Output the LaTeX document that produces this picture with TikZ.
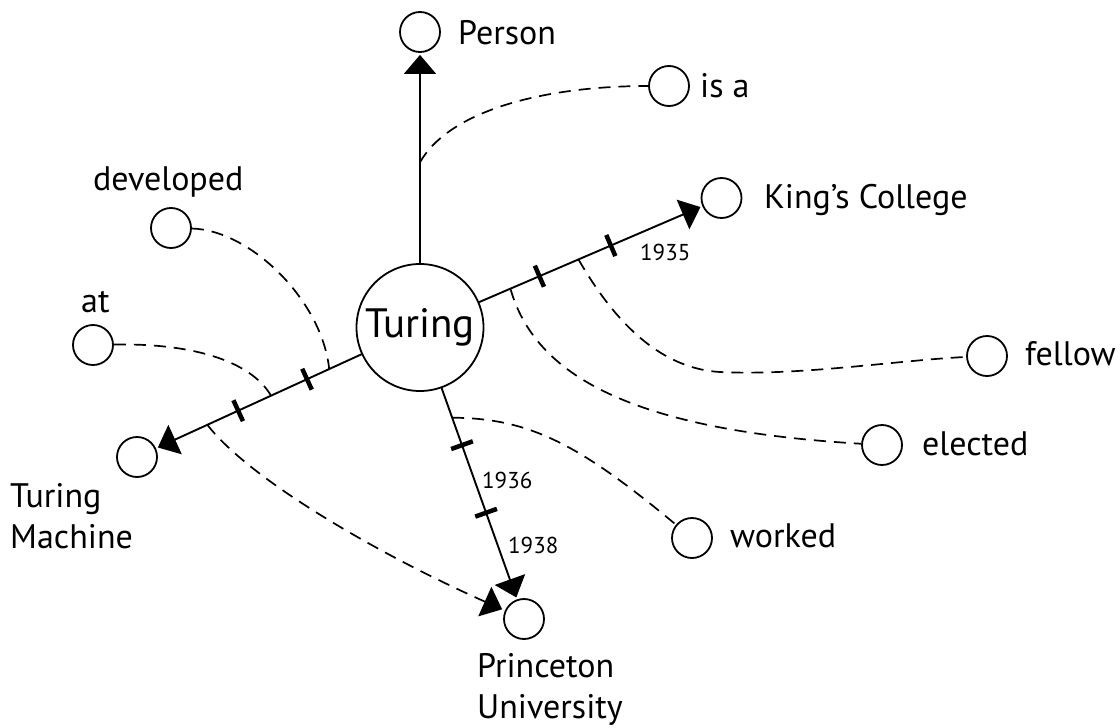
\documentclass[tikz,border=0pt]{standalone}
\usepackage{fontspec}
\setmainfont{PT Sans}
\usetikzlibrary{arrows.meta}
\begin{document}
\begin{tikzpicture}[x=1pt,y=-1pt,
  every node/.style={inner sep=0pt},
  term/.style={circle,draw,line width=1.8pt,minimum size=40pt},
  hub/.style={circle,draw,line width=1.8pt,minimum size=127pt,font=\fontsize{41}{49}\selectfont},
  lbl/.style={anchor=base west,font=\fontsize{34}{40}\selectfont},
  yr/.style={anchor=base west,font=\fontsize{23}{27}\selectfont},
  tip/.style={-{Triangle[width=32pt,length=19pt]}},
  rel/.style={line width=1.9pt,tip,shorten >=2pt},
  hint/.style={line width=1.7pt,dash pattern=on 12pt off 8pt},
  bar/.style={rectangle,fill=black,minimum width=4.5pt,minimum height=23pt,sloped}
]
% canvas
\path[fill=white,use as bounding box] (0,0) rectangle (1120,728);

% concepts
\node[hub]  (tur)     at (420,327.5) {Turing};
\node[term] (person)  at (420,32)  {};
\node[term] (isa)     at (669,86)  {};
\node[term] (dev)     at (171,228) {};
\node[term] (at)      at (93,345)  {};
\node[term] (tm)      at (137,457) {};
\node[term] (kings)   at (721.5,198) {};
\node[term] (fellow)  at (987,356) {};
\node[term] (elected) at (882,445) {};
\node[term] (worked)  at (692,538) {};
\node[term] (prin)    at (524,619) {};

% labels
\node[lbl] (tperson)  at (458,45)  {Person};
\node[lbl] (tisa)     at (700,97)  {is a};
\node[lbl] (tdev)     at (93,190)  {developed};
\node[lbl] (tat)      at (81,312)  {at};
\node[lbl] (ttm1)     at (10,507)  {Turing};
\node[lbl] (ttm2)     at (10,548)  {Machine};
\node[lbl] (tkings)   at (764,208) {King’s College};
\node[lbl] (tfellow)  at (1025,365) {fellow};
\node[lbl] (telected) at (922,455) {elected};
\node[lbl] (tworked)  at (730,547) {worked};
\node[lbl] (tprin1)   at (477,677) {Princeton};
\node[lbl] (tprin2)   at (477,718) {University};
\node[yr]  (y35)      at (640,260) {1935};
\node[yr]  (y36)      at (482,488) {1936};
\node[yr]  (y38)      at (508,553) {1938};

% relations with time marks
\draw[rel] (tur) -- (person) coordinate[pos=0.48] (p1);
\draw[rel] (tur) -- (kings)
  coordinate[pos=0.14] (k1) coordinate[pos=0.445] (k2)
  node[bar,pos=0.27] (kb1) {} node[bar,pos=0.59] (kb2) {};
\draw[rel] (tur) -- (tm)
  coordinate[pos=0.157] (m1) coordinate[pos=0.44] (m2) coordinate[pos=0.75] (m3)
  node[bar,pos=0.265] (mb1) {} node[bar,pos=0.60] (mb2) {};
\draw[rel] (tur) -- (prin)
  coordinate[pos=0.14] (r1)
  node[bar,pos=0.27] (rb1) {} node[bar,pos=0.59] (rb2) {};

% qualifiers
\draw[hint] (p1) .. controls (450,110) and (545,86) .. (isa);
\draw[hint] (dev) .. controls (250,230) and (322,300) .. (m1);
\draw[hint] (at) .. controls (190,343) and (250,360) .. (m2);
\draw[hint,tip,shorten >=3pt] (m3) .. controls (250,480) and (380,555) .. (prin);
\draw[hint] (k1) .. controls (535,375) and (630,430) .. (elected);
\draw[hint] (k2) .. controls (605,305) and (650,368) .. (720,372)
  .. controls (800,376) and (900,360) .. (fellow);
\draw[hint] (r1) .. controls (530,418) and (580,445) .. (worked);
\end{tikzpicture}
\end{document}
